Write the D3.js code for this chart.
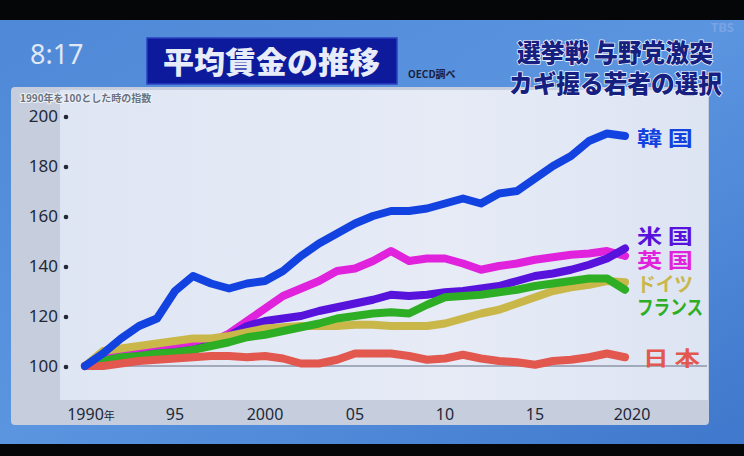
<!DOCTYPE html>
<html><head><meta charset="utf-8">
<script src="https://cdn.jsdelivr.net/npm/d3@7"></script>
<style>html,body{margin:0;padding:0;background:#000;overflow:hidden}</style>
</head><body>
<script>
const years = d3.range(1990, 2021);
const korea   = [100,105,111,116,119,130,136,133,131,133,134,138,144,149,153,157,160,162,162,163,165,167,165,169,170,175,180,184,190,193,192];
const usa     = [100,102,103,104,105,105.5,106.5,108.5,112,116,118,119,120,122,123.5,125,126.5,128.5,128,128.5,129.5,130,131,132,134,136,137,138.5,140.5,143,147];
const uk      = [100,104,105.5,106,107,108,108.5,109.5,113,118,123,128,131,134,138,139,142,146,142,143,143,141,138.5,140,141,142.5,143.5,144.5,145,146,144];
const germany = [100,106,107,108,109,110,111,111,112,113.5,115,115.5,116,116,116,116.5,116.5,116,116,116,117,119,121,122.5,125,127.5,130,131.5,132.5,134,133.5];
const france  = [100,102,103.5,104,105,105.5,106.5,108,109.5,111.5,112.5,114,115.5,117,119,120,121,121.5,121,124.5,127.5,128,128.5,129.5,130.5,132,133,134,135,135,130.5];
const japan   = [100,100,101,102,102.5,103,103.5,104,104,103.5,104,103,101,101,102.5,105,105,105,104,102.5,103,104.5,103,102,101.5,100.5,102,102.5,103.5,105,103.5];
const seriesNames = ["英 国","米 国","ドイツ","フランス","日 本","韓 国"];
const yTicks = [100,120,140,160,180,200];
const xTicks = [1990,1995,2000,2005,2010,2015,2020];
const xTickLabels = ["1990","95","2000","05","10","15","2020"];

const W = 744, H = 456;
const svg = d3.select("body").append("svg").attr("width", W).attr("height", H);
const defs = svg.append("defs");
const bg = defs.append("linearGradient").attr("id","bg").attr("x1",0).attr("y1",0).attr("x2",1).attr("y2",1);
bg.append("stop").attr("offset","0%").attr("stop-color","#4f88d6");
bg.append("stop").attr("offset","50%").attr("stop-color","#5b95e0");
bg.append("stop").attr("offset","100%").attr("stop-color","#3f78cc");
const pg = defs.append("linearGradient").attr("id","pg").attr("x1",0).attr("y1",0).attr("x2",1).attr("y2",0);
pg.append("stop").attr("offset","0%").attr("stop-color","#dfe6f3");
pg.append("stop").attr("offset","60%").attr("stop-color","#e6ebf6");
pg.append("stop").attr("offset","100%").attr("stop-color","#dde4f2");

svg.append("rect").attr("width",W).attr("height",H).attr("fill","#050608");
svg.append("rect").attr("x",0).attr("y",20).attr("width",W).attr("height",424).attr("fill","url(#bg)");

// panel
svg.append("rect").attr("x",11).attr("y",87).attr("width",698).attr("height",338).attr("rx",4).attr("fill","#c6cedd");
svg.append("rect").attr("x",60).attr("y",90).attr("width",648).attr("height",310).attr("fill","url(#pg)");

// header
svg.append("text").attr("x",30).attr("y",64).text("8:17")
  .attr("font-family","Noto Sans, sans-serif").attr("font-size",27).attr("fill","#dfe8f4");
svg.append("rect").attr("x",147).attr("y",38).attr("width",250).attr("height",46).attr("fill","#0d1a9c").attr("stroke","#2a40c0").attr("stroke-width",1.5);
svg.append("text").attr("x",271.5).attr("y",73).attr("text-anchor","middle").text("平均賃金の推移")
  .attr("font-family","Noto Sans CJK JP").attr("font-weight",900).attr("font-size",30).attr("fill","#e8ecf8")
  .attr("textLength",217).attr("lengthAdjust","spacingAndGlyphs");
svg.append("text").attr("x",408).attr("y",78).text("OECD調べ")
  .attr("font-family","Noto Sans CJK JP").attr("font-weight",700).attr("font-size",10).attr("fill","#1a2040");
svg.append("text").attr("x",734).attr("y",32).attr("text-anchor","end").text("TBS")
  .attr("font-family","Noto Sans, sans-serif").attr("font-weight",700).attr("font-size",13).attr("fill","#79a3e2");
const hdr = svg.append("g").attr("font-family","Noto Sans CJK JP").attr("font-weight",900).attr("font-size",25)
  .attr("fill","#152080").attr("stroke","#f0f4ff").attr("stroke-width",1.6).attr("stroke-linejoin","round").attr("paint-order","stroke");
hdr.append("text").attr("x",517).attr("y",62).attr("textLength",196).attr("lengthAdjust","spacingAndGlyphs").text("選挙戦 与野党激突");
hdr.append("text").attr("x",509).attr("y",93).attr("textLength",213).attr("lengthAdjust","spacingAndGlyphs").text("カギ握る若者の選択");

svg.append("text").attr("x",20).attr("y",102).text("1990年を100とした時の指数")
  .attr("font-family","Noto Sans CJK JP").attr("font-weight",700).attr("font-size",10).attr("fill","#6a7282")
  .attr("stroke","#eef2f8").attr("stroke-width",2).attr("paint-order","stroke");

const x = d3.scaleLinear().domain([1990,2020]).range([85,625]);
const y = d3.scaleLinear().domain([100,200]).range([366,116]);

// baseline
svg.append("line").attr("x1",x(1990)).attr("x2",707).attr("y1",y(100)).attr("y2",y(100))
  .attr("stroke","#8c96aa").attr("stroke-width",1.5);

// y axis
const yAxis = svg.append("g");
yAxis.selectAll("text").data(yTicks).join("text")
  .attr("x",58).attr("y",d=>y(d)+6).attr("text-anchor","end").text(d=>d)
  .attr("font-family","Noto Sans, sans-serif").attr("font-size",17).attr("fill","#222838");
yAxis.selectAll("circle").data(yTicks).join("circle")
  .attr("cx",66).attr("cy",d=>y(d)+1).attr("r",2.3).attr("fill","#222838");

// x axis
const xAxis = svg.append("g").attr("font-family","Noto Sans, sans-serif").attr("font-size",16).attr("fill","#222838");
xTicks.forEach((t,i)=>{
  const tx = xAxis.append("text").attr("y",420).attr("text-anchor","middle")
    .attr("x", i===0 ? x(t)+6 : (i===xTicks.length-1 ? x(t)+7 : x(t)));
  tx.append("tspan").text(xTickLabels[i]);
  if(i===0) tx.append("tspan").attr("font-size",11).attr("font-family","Noto Sans CJK JP").text("年");
});

// drawn bottom -> top
const data = [
  {name:seriesNames[0], vals:uk,      color:"#e022dc", ly:268, w:56},
  {name:seriesNames[1], vals:usa,     color:"#5712dc", ly:244, w:56},
  {name:seriesNames[2], vals:germany, color:"#c9b74a", ly:292, w:56},
  {name:seriesNames[3], vals:france,  color:"#2eae24", ly:315, w:66},
  {name:seriesNames[4], vals:japan,   color:"#e2574e", ly:366, w:57},
  {name:seriesNames[5], vals:korea,   color:"#1242e0", ly:146, w:56},
];
const line = d3.line().x((d,i)=>x(years[i])).y(d=>y(d)).curve(d3.curveLinear);
svg.append("g").selectAll("path").data(data).join("path")
  .attr("d",d=>line(d.vals)).attr("fill","none").attr("stroke",d=>d.color)
  .attr("stroke-width",8).attr("stroke-linecap","round").attr("stroke-linejoin","round");

svg.append("g").selectAll("text").data(data).join("text")
  .attr("x",d=>d.name==="日 本"?643:637).attr("y",d=>d.ly).text(d=>d.name)
  .attr("font-family","Noto Sans CJK JP").attr("font-weight",700).attr("font-size",20)
  .attr("fill",d=>d.color)
  .attr("textLength",d=>d.w).attr("lengthAdjust","spacingAndGlyphs");
</script>
</body></html>
